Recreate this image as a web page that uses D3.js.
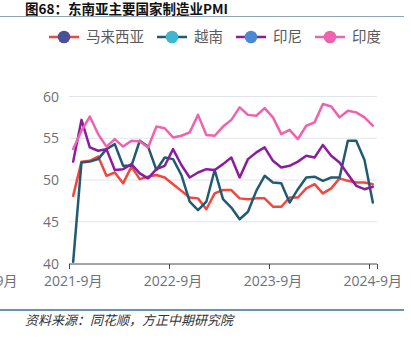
<!DOCTYPE html>
<html><head><meta charset="utf-8">
<script src="https://cdn.jsdelivr.net/npm/d3@7/dist/d3.min.js"></script>
<style>
html,body{margin:0;padding:0;background:#fff;overflow:hidden;}
svg{display:block;}
</style></head>
<body>
<svg id="c" width="411" height="341"></svg>
<script>
const months = ["2021-9月","2021-10月","2021-11月","2021-12月",
"2022-1月","2022-2月","2022-3月","2022-4月","2022-5月","2022-6月","2022-7月","2022-8月","2022-9月","2022-10月","2022-11月","2022-12月",
"2023-1月","2023-2月","2023-3月","2023-4月","2023-5月","2023-6月","2023-7月","2023-8月","2023-9月","2023-10月","2023-11月","2023-12月",
"2024-1月","2024-2月","2024-3月","2024-4月","2024-5月","2024-6月","2024-7月","2024-8月","2024-9月"];
const seriesNames = ["马来西亚","越南","印尼","印度"];
const malaysia = [48.1,52.2,52.3,52.8, 50.5,50.9,49.6,51.6,50.1,50.4,50.6,50.3,49.5,48.7,47.9,47.8, 46.5,48.4,48.8,48.8,47.8,47.7,47.8,47.8,46.8,46.8,47.9,47.9, 49.0,49.5,48.4,49.0,50.2,49.9,49.7,49.7,49.5];
const vietnam = [40.2,52.1,52.2,52.5, 53.7,54.3,51.7,51.7,54.7,54.0,51.2,52.7,52.5,50.6,47.4,46.4, 47.4,51.2,47.7,46.7,45.3,46.2,48.7,50.5,49.7,49.6,47.3,48.9, 50.3,50.4,49.9,50.3,50.3,54.7,54.7,52.4,47.3];
const indonesia = [52.2,57.2,53.9,53.5, 53.7,51.2,51.3,51.9,50.8,50.2,51.3,51.7,53.7,51.8,50.3,50.9, 51.3,51.2,51.9,52.7,50.3,52.5,53.3,53.9,52.3,51.5,51.7,52.2, 52.9,52.7,54.2,52.9,52.1,50.7,49.3,48.9,49.2];
const india = [53.7,55.9,57.6,55.5, 54.0,54.9,54.0,54.7,54.6,53.9,56.4,56.2,55.1,55.3,55.7,57.8, 55.4,55.3,56.4,57.2,58.7,57.8,57.7,58.6,57.5,55.5,56.0,54.9, 56.5,56.9,59.1,58.8,57.5,58.3,58.1,57.5,56.5];
const yTicks = [40,45,50,55,60];
const xTickLabels = ["2021-9月","2022-9月","2023-9月","2024-9月"];
const lineColors = ["#f2473c","#235a73","#8b1c9e","#f062ad"];
const dotColors = ["#4b5196","#3fb7cf","#4a89d6","#f062ad"];

const svg = d3.select("#c");
const cjk = "'Noto Sans CJK SC','Noto Sans',sans-serif";

// title
svg.append("text").attr("x",25).attr("y",14).text("图68：东南亚主要国家制造业PMI")
  .attr("font-family",cjk).attr("font-size",13.5).attr("font-weight","bold").attr("fill","#111");
svg.append("line").attr("x1",0).attr("x2",404).attr("y1",16.5).attr("y2",16.5)
  .attr("stroke","#8ea4b8").attr("stroke-width",1);

// scales
const x = d3.scaleBand().domain(months).range([69,377]).paddingInner(0).paddingOuter(0);
const y = d3.scaleLinear().domain([40,60]).range([263.5,96.5]);
const cx = m => x(m) + x.bandwidth()/2;

// grid
svg.append("g").selectAll("line").data(yTicks.filter(t=>t>40)).join("line")
  .attr("x1",69).attr("x2",377).attr("y1",d=>y(d)).attr("y2",d=>y(d))
  .attr("stroke","#dfe4ee").attr("stroke-width",1);

// y labels
svg.append("g").selectAll("text").data(yTicks).join("text")
  .attr("x",59).attr("y",d=>y(d)).attr("dy","0.36em").attr("text-anchor","end")
  .attr("font-family","'Open Sans','Noto Sans',sans-serif").attr("font-size",14).attr("fill","#6e7079")
  .text(d=>d);

// x axis
const axisY = 264;
svg.append("line").attr("x1",69).attr("x2",377).attr("y1",axisY).attr("y2",axisY)
  .attr("stroke","#4a4a4a").attr("stroke-width",1);
const tickXs = xTickLabels.map(m=>x(m)).concat([x.range()[1]]);
svg.append("g").selectAll("line").data(tickXs).join("line")
  .attr("x1",d=>Math.round(d)+0.5).attr("x2",d=>Math.round(d)+0.5).attr("y1",axisY).attr("y2",axisY+5)
  .attr("stroke","#4a4a4a").attr("stroke-width",1);
svg.append("g").selectAll("text").data(xTickLabels).join("text")
  .attr("x",d=>cx(d)).attr("y",281).attr("dy","0.36em").attr("text-anchor","middle")
  .attr("font-family","'Open Sans','Noto Sans CJK SC',sans-serif").attr("font-size",14).attr("fill","#6e7079")
  .text(d=>d);
// clipped leftover label at left edge (as in the reference)
const defs = svg.append("defs");
defs.append("clipPath").attr("id","lclip").append("rect").attr("x",0).attr("y",268).attr("width",16).attr("height",25);
svg.append("text").attr("clip-path","url(#lclip)").attr("x",17.5).attr("y",281).attr("dy","0.36em")
  .attr("text-anchor","end").attr("font-family","'Open Sans','Noto Sans CJK SC',sans-serif")
  .attr("font-size",14).attr("fill","#6e7079").text("2020-9月");

// lines
const allSeries = [malaysia, vietnam, indonesia, india];
const line = d3.line().x((d,i)=>cx(months[i])).y(d=>y(d));
svg.append("g").selectAll("path").data(allSeries).join("path")
  .attr("d",d=>line(d)).attr("fill","none")
  .attr("stroke",(d,i)=>lineColors[i]).attr("stroke-width",2.5)
  .attr("stroke-linejoin","round").attr("stroke-linecap","round");

// legend
const lg = svg.append("g");
let lx = 49;
const ly = 37;
seriesNames.forEach((name,i)=>{
  const g = lg.append("g");
  g.append("line").attr("x1",lx).attr("x2",lx+30).attr("y1",ly).attr("y2",ly)
    .attr("stroke",lineColors[i]).attr("stroke-width",2.5);
  g.append("circle").attr("cx",lx+15).attr("cy",ly).attr("r",6.3).attr("fill",dotColors[i]);
  const t = g.append("text").attr("x",lx+37).attr("y",ly).attr("dy","0.36em")
    .attr("font-family",cjk).attr("font-size",14.5).attr("fill","#5a5a5a").text(name);
  const w = t.node().getComputedTextLength();
  lx = lx + 37 + w + 13;
});

// bottom rule & source
svg.append("line").attr("x1",0).attr("x2",404).attr("y1",310).attr("y2",310)
  .attr("stroke","#3a6e9b").attr("stroke-width",1.5);
svg.append("text").attr("x",25).attr("y",325).text("资料来源：同花顺，方正中期研究院")
  .attr("font-family",cjk).attr("font-size",13).attr("font-style","italic").attr("fill","#333");
</script>
</body></html>
